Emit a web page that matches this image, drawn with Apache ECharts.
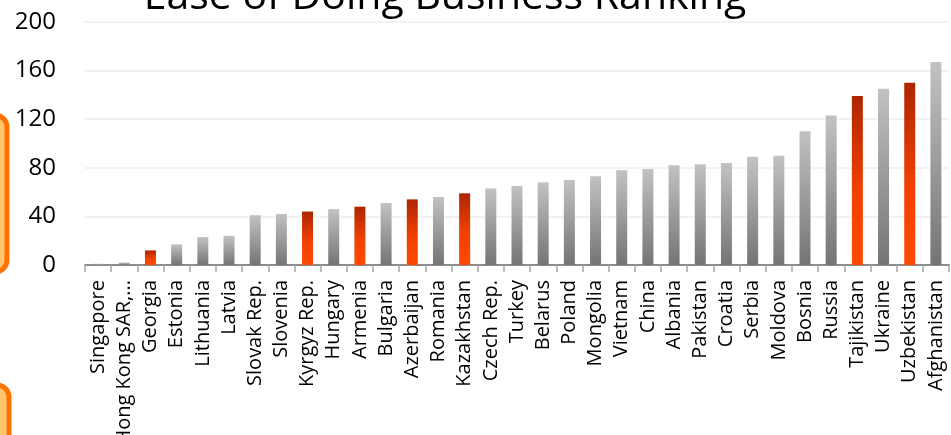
<!DOCTYPE html>
<html>
<head>
<meta charset="utf-8">
<script src="https://cdn.jsdelivr.net/npm/echarts@6/dist/echarts.min.js"></script>
<style>
  html, body { margin: 0; padding: 0; background: #fff; }
  #chart { width: 951px; height: 435px; }
</style>
</head>
<body>
<div id="chart"></div>
<script>
  'use strict';
  // ranking data (lower is better)
  var countries = ["Singapore", "Hong Kong SAR, China", "Georgia", "Estonia", "Lithuania", "Latvia",
    "Slovak Rep.", "Slovenia", "Kyrgyz Rep.", "Hungary", "Armenia", "Bulgaria", "Azerbaijan",
    "Romania", "Kazakhstan", "Czech Rep.", "Turkey", "Belarus", "Poland", "Mongolia", "Vietnam",
    "China", "Albania", "Pakistan", "Croatia", "Serbia", "Moldova", "Bosnia", "Russia",
    "Tajikistan", "Ukraine", "Uzbekistan", "Afghanistan"];
  var ranks = [1, 2, 12, 17, 23, 24, 41, 42, 44, 46, 48, 51, 54, 56, 59, 63, 65, 68, 70, 73, 78,
    79, 82, 83, 84, 89, 90, 110, 123, 139, 145, 150, 167];
  var highlighted = ["Georgia", "Kyrgyz Rep.", "Armenia", "Azerbaijan", "Kazakhstan", "Tajikistan", "Uzbekistan"];
  var yTicks = [0, 40, 80, 120, 160, 200];

  var FONT = "'Open Sans', 'Noto Sans', sans-serif";

  function grad(top, bottom) {
    return new echarts.graphic.LinearGradient(0, 0, 0, 1, [
      { offset: 0, color: top },
      { offset: 1, color: bottom }
    ]);
  }
  var grayFill = grad('#c2c2c2', '#747474');
  var orangeFill = new echarts.graphic.LinearGradient(0, 0, 0, 1, [
    { offset: 0, color: '#ad2600' },
    { offset: 0.55, color: '#f04000' },
    { offset: 1, color: '#ff4a00' }
  ]);

  var barData = countries.map(function (c, i) {
    return {
      value: ranks[i],
      itemStyle: { color: highlighted.indexOf(c) >= 0 ? orangeFill : grayFill }
    };
  });

  var chart = echarts.init(document.getElementById('chart'), null, { renderer: 'canvas' });
  chart.setOption({
    animation: false,
    backgroundColor: '#ffffff',
    title: {
      text: 'Ease of Doing Business Ranking',
      left: 440,
      textAlign: 'center',
      top: -28,
      textStyle: { fontFamily: FONT, fontSize: 41, fontWeight: 'normal', color: '#000' }
    },
    grid: { left: 85, right: 2, top: 22, bottom: 170, containLabel: false, outerBoundsMode: 'none' },
    xAxis: {
      type: 'category',
      data: countries,
      axisLine: { lineStyle: { color: '#8c8c8c', width: 2 } },
      axisTick: { show: true, length: 7, lineStyle: { color: '#a6a6a6', width: 1.5 } },
      axisLabel: {
        interval: 0,
        rotate: 90,
        margin: 15,
        fontFamily: FONT,
        fontSize: 20,
        color: '#000',
        formatter: function (v) {
          return v.length > 16 ? v.slice(0, 14) + '...' : v;
        }
      }
    },
    yAxis: {
      type: 'value',
      min: yTicks[0],
      max: yTicks[yTicks.length - 1],
      interval: yTicks[1] - yTicks[0],
      axisLine: { show: false },
      axisTick: { show: false },
      axisLabel: { fontFamily: FONT, fontSize: 24, color: '#000', margin: 29 },
      splitLine: { lineStyle: { color: '#eeeeee', width: 1.5 } }
    },
    series: [{
      type: 'bar',
      data: barData,
      barWidth: 11
    }],
    graphic: [
      {
        type: 'rect',
        shape: { x: -40, y: 115, width: 47, height: 157, r: 12 },
        style: { fill: '#ffc66e', stroke: '#ff7200', lineWidth: 5 }
      },
      {
        type: 'rect',
        shape: { x: -40, y: 385, width: 49, height: 90, r: 12 },
        style: { fill: '#ffc66e', stroke: '#ff7200', lineWidth: 5 }
      }
    ]
  });
</script>
</body>
</html>
